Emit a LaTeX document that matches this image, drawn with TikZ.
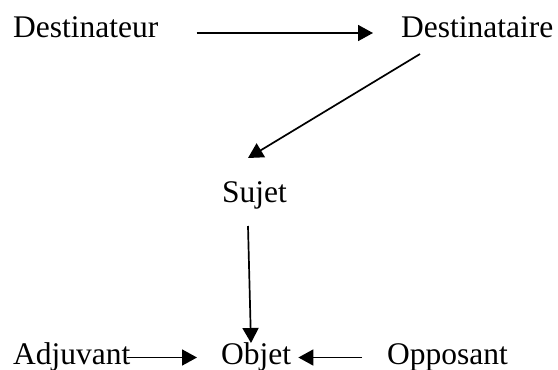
\documentclass[tikz,border=0pt]{standalone}
\usepackage{fontspec}
\setmainfont{Liberation Serif}
\usetikzlibrary{arrows.meta,calc}
\begin{document}
\begin{tikzpicture}[x=1pt,y=-1pt,
  lbl/.style={inner sep=0pt,anchor=base west,font=\fontsize{31.5}{38}\selectfont},
  arr/.style={line width=1.7pt,-{Triangle[length=15pt,width=16pt]}}]
\useasboundingbox (0,0) rectangle (558,370);
\node[lbl] (dr) at (13,37) {Destinateur};
\node[lbl] (de) at (401,37) {Destinataire};
\node[lbl] (su) at (222,202) {Sujet};
\node[lbl] (ob) at (221,364) {Objet};
\node[lbl] (ad) at (13,364) {Adjuvant};
\node[lbl] (op) at (387,364) {Opposant};
\draw[arr] ($(dr.base east)+(38,-4)$) -- ($(de.base west)+(-28,-4)$);
\draw[arr] ($(de.base west)+(19,17)$) -- ($(su.base west)+(26,-44)$);
\draw[arr] ($(su.base west)+(26,24)$) -- ($(ob.base west)+(30,-21)$);
\draw[arr] ($(ad.base east)+(-4,-6.5)$) -- ($(ob.base west)+(-24,-6.5)$);
\draw[arr] ($(op.base west)+(-25,-6.5)$) -- ($(ob.base east)+(7,-6.5)$);
\end{tikzpicture}
\end{document}
